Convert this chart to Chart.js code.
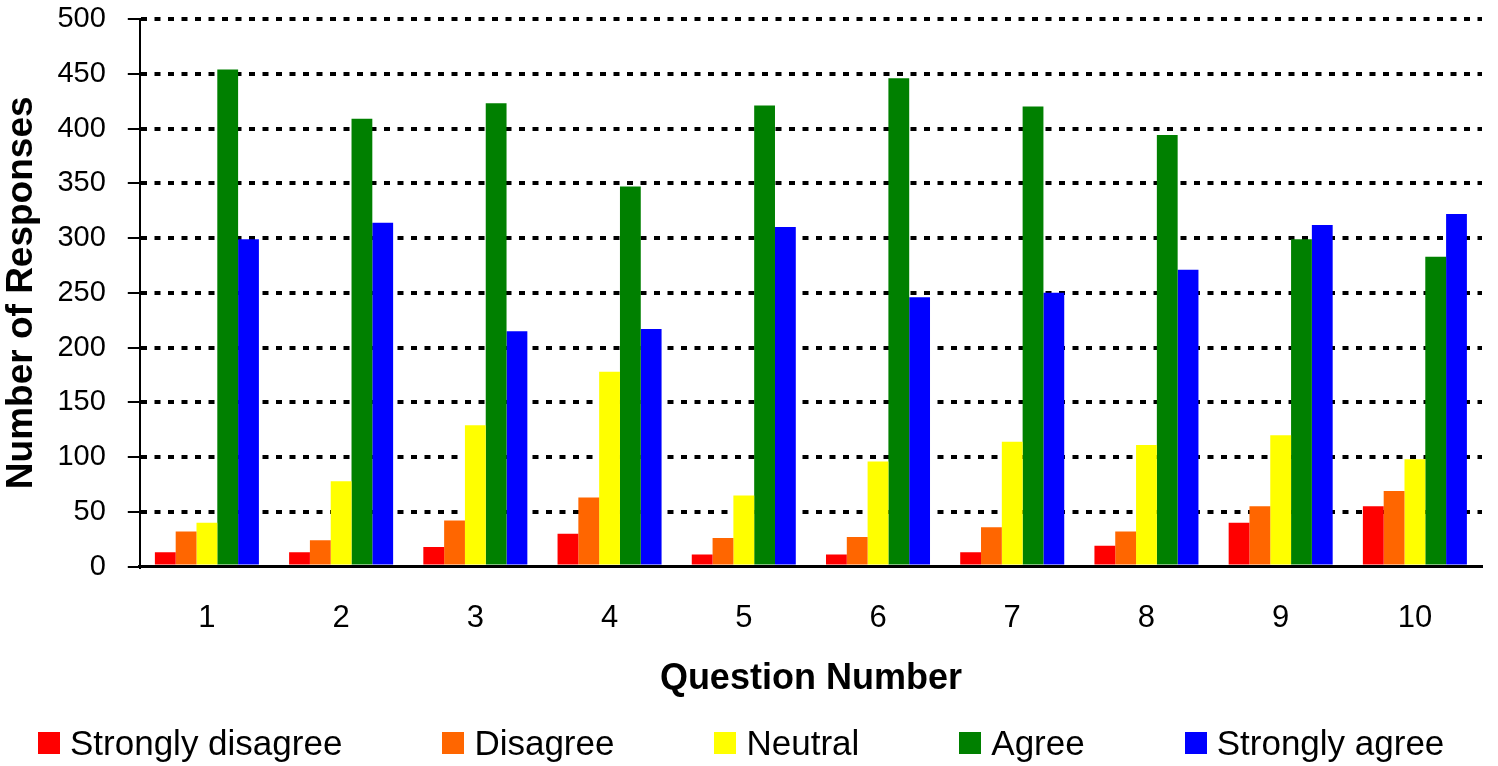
<!DOCTYPE html>
<html>
<head>
<meta charset="utf-8">
<script src="https://cdn.jsdelivr.net/npm/chart.js@4/dist/chart.umd.min.js"></script>
<style>
  html, body { margin: 0; padding: 0; background: #fff; }
  #wrap { position: relative; width: 1498px; height: 766px; }
  #chart { position: absolute; left: 0; top: 0; }
  #legend {
    position: absolute; left: 38px; top: 722px; height: 42px;
    display: flex; align-items: center; gap: 100px;
    font-family: "Liberation Sans", Arial, sans-serif; font-size: 35px; color: #000;
    white-space: nowrap;
  }
  .item { display: flex; align-items: center; gap: 10px; }
  .box { width: 22px; height: 22px; display: inline-block; }
</style>
</head>
<body>
<div id="wrap">
  <canvas id="chart" width="1498" height="766"></canvas>
  <div id="legend"></div>
</div>
<script>
// Survey responses per question.
const questions = ["1", "2", "3", "4", "5", "6", "7", "8", "9", "10"];
const seriesNames = ["Strongly disagree", "Disagree", "Neutral", "Agree", "Strongly agree"];
const seriesColors = ["#ff0000", "#ff6600", "#ffff00", "#008000", "#0000ff"];

const stronglyDisagree = [13, 13, 18, 30, 11, 11, 13, 19, 40, 55];
const disagree = [32, 24, 42, 63, 26, 27, 36, 32, 55, 69];
const neutral = [40, 78, 129, 178, 65, 96, 114, 111, 120, 98];
const agree = [454, 409, 423, 347, 421, 446, 420, 394, 299, 283];
const stronglyAgree = [299, 314, 215, 217, 310, 246, 250, 271, 312, 322];

const yMax = 500;
const yStep = 50;

const values = [stronglyDisagree, disagree, neutral, agree, stronglyAgree];

const FONT = "'Liberation Sans', Arial, sans-serif";
Chart.defaults.color = "#000";
Chart.defaults.font.family = FONT;

const datasets = seriesNames.map((name, i) => ({
  label: name,
  data: values[i],
  backgroundColor: seriesColors[i],
  borderWidth: 0,
  categoryPercentage: 0.775,
  barPercentage: 1.0,
}));

new Chart(document.getElementById("chart"), {
  type: "bar",
  data: { labels: questions, datasets },
  options: {
    responsive: false,
    animation: false,
    layout: { padding: { top: 19, right: 16, bottom: 65, left: 0 } },
    plugins: {
      legend: { display: false },
      tooltip: { enabled: false },
    },
    scales: {
      x: {
        grid: { display: false, drawTicks: false },
        border: { display: true, color: "#000", width: 3 },
        ticks: { font: { size: 31 }, padding: 33, color: "#000" },
        title: {
          display: true,
          text: "Question Number",
          font: { size: 36, weight: "bold" },
          // tick padding is counted twice in the axis height, so pull the title up
          padding: { top: -12, bottom: 0 },
          color: "#000",
        },
      },
      y: {
        min: 0,
        max: yMax,
        // the top label's overhang would push the plot down; the layout padding handles it
        afterFit: (axis) => { axis.paddingTop = 0; },
        ticks: { stepSize: yStep, font: { size: 29 }, padding: 22, color: "#000" },
        grid: {
          color: (c) => (c.tick && c.tick.value === 0 ? "rgba(0,0,0,0)" : "#000"),
          lineWidth: 4,
          tickLength: 12,
          tickWidth: 2,
          tickColor: "#000",
          tickBorderDash: [],
        },
        border: { display: true, color: "#000", width: 2, dash: [6, 7.5] },
        title: {
          display: true,
          text: "Number of Responses",
          font: { size: 37, weight: "bold" },
          padding: { top: 0, bottom: -9 },
          color: "#000",
        },
      },
    },
  },
});

// Legend drawn as HTML so the wide item spacing matches the original.
document.getElementById("legend").innerHTML = seriesNames
  .map((name, i) => `<span class="item"><span class="box" style="background:${seriesColors[i]}"></span>${name}</span>`)
  .join("");
</script>
</body>
</html>
